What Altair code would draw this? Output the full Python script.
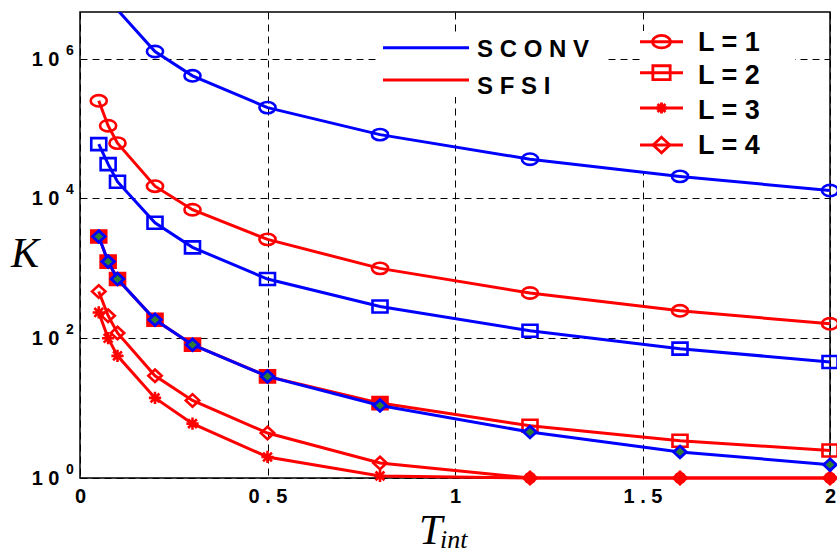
import altair as alt
import pandas as pd

# ---------------- data ----------------
T = [0.05, 0.075, 0.1, 0.2, 0.3, 0.5, 0.8, 1.2, 1.6, 2.0]

sconv_l1 = [2.0e7, 9.0e6, 5.0e6, 1.27e6, 5.7e5, 2.0e5, 8.2e4, 3.65e4, 2.07e4, 1.3e4]
sconv_l2 = [6.0e4, 3.1e4, 1.74e4, 4.5e3, 2.0e3, 703, 285, 128, 71, 45.7]
sconv_l34 = [2860, 1250, 704, 184, 80.7, 28.4, 10.9, 4.55, 2.36, 1.55]

sfsi_l1 = [2.5e5, 1.1e5, 6.2e4, 1.5e4, 6.9e3, 2.6e3, 1.0e3, 444, 247, 161]
sfsi_l2 = [2860, 1250, 704, 184, 81, 28.5, 11.8, 5.6, 3.42, 2.48]
sfsi_l3 = [234, 100, 56, 14, 6.0, 2.0, 1.07, 1, 1, 1]
sfsi_l4 = [468, 210, 119, 29, 12.9, 4.4, 1.64, 1, 1, 1]

x_ticks = [0, 0.5, 1, 1.5, 2]
y_ticks = [1, 100, 1e4, 1e6]
y_tick_base = ["1 0", "1 0", "1 0", "1 0"]
y_tick_exp = ["0", "2", "4", "6"]

method_names = ["SCONV", "SFSI"]
level_names = ["L = 1", "L = 2", "L = 3", "L = 4"]

YMAX = 10 ** 6.669

# ---------------- styles ----------------
SANS = "Liberation Sans"
SERIF = "Liberation Serif"
BLUE = "#0000ff"
RED = "#ff0000"
LW = 3

ELL = "M-1,0A1,0.7,0,1,1,1,0A1,0.7,0,1,1,-1,0Z"
RECT = "M-1,-0.8L1,-0.8L1,0.8L-1,0.8Z"
DIAM = "M0,-0.93L1,0L0,0.93L-1,0Z"
STAR = "M0,-1L0,1M-1,0L1,0M-0.72,-0.72L0.72,0.72M-0.72,0.72L0.72,-0.72"

X = alt.X(
    "T:Q",
    scale=alt.Scale(domain=[0, 2], nice=False, zero=False),
    axis=alt.Axis(
        values=x_ticks, grid=True, gridDash=[7, 5], gridColor="black",
        gridOpacity=1, gridWidth=1, domain=False, ticks=False,
        labelFont=SANS, labelFontSize=20, labelFontWeight="bold",
        labelColor="black", labelPadding=8, labelFlush=False,
        labelExpr="replace(format(datum.value, '~g'), '.', ' . ')",
        title=None,
    ),
)
Y = alt.Y(
    "K:Q",
    scale=alt.Scale(type="log", domain=[1, YMAX], nice=False),
    axis=alt.Axis(
        values=y_ticks, grid=True, gridDash=[7, 5], gridColor="black",
        gridOpacity=1, gridWidth=1, domain=False, ticks=False,
        labels=False, title=None,
    ),
)


def one():
    return pd.DataFrame({"a": [0]})


def series(vals, color, shape, size, clip=False, point_kw=None):
    df = pd.DataFrame({"T": T, "K": vals})
    base = alt.Chart(df).encode(x=X, y=Y)
    line = base.mark_line(color=color, strokeWidth=LW, clip=clip)
    kw = dict(shape=shape, size=size, opacity=1, strokeWidth=2.6)
    kw.update(point_kw or {"filled": False, "color": color})
    pts = base.transform_filter(alt.datum.K <= YMAX).mark_point(**kw)
    return df, line, pts


layers = []

# legend backgrounds (under data, over grid)
layers.append(alt.Chart(one()).mark_rect(fill="white").encode(
    x=alt.value(298), x2=alt.value(527), y=alt.value(20), y2=alt.value(85)))
layers.append(alt.Chart(one()).mark_rect(fill="white").encode(
    x=alt.value(561), x2=alt.value(715), y=alt.value(19), y2=alt.value(161)))

# SFSI (red)
_, l, p = series(sfsi_l1, RED, ELL, 260)
layers += [l, p]
df2, l, p = series(sfsi_l2, RED, RECT, 225)
filled_sq = alt.Chart(df2).encode(x=X, y=Y).transform_filter(alt.datum.T <= 0.8).mark_point(
    shape=RECT, size=250, filled=True, color=RED, opacity=1)
layers += [l, p, filled_sq]
_, l, p = series(sfsi_l3, RED, STAR, 150)
layers += [l, p]
_, l, p = series(sfsi_l4, RED, DIAM, 180)
layers += [l, p]

# SCONV (blue)
_, l, p = series(sconv_l1, BLUE, ELL, 260, clip=True)
layers += [l, p]
_, l, p = series(sconv_l2, BLUE, RECT, 225)
layers += [l, p]
_, l, p = series(sconv_l34, BLUE, DIAM, 160,
                 point_kw={"filled": True, "fill": "#2e7d32", "stroke": BLUE, "strokeWidth": 2.8})
layers += [l, p]

# y tick labels 10^k
ytk = pd.DataFrame({"K": y_ticks, "base": y_tick_base, "exp": y_tick_exp})
layers.append(alt.Chart(ytk).mark_text(
    align="right", baseline="alphabetic", dy=7, fontSize=20, fontWeight="bold",
    font=SANS, color="black").encode(x=alt.value(-20.5), y=Y, text="base:N"))
layers.append(alt.Chart(ytk).mark_text(
    align="left", baseline="alphabetic", dy=-4, fontSize=14, fontWeight="bold",
    font=SANS, color="black").encode(x=alt.value(-14), y=Y, text="exp:N"))

# axis titles
layers.append(alt.Chart(pd.DataFrame({"t": ["K"]})).mark_text(
    align="left", baseline="alphabetic", fontSize=42, fontStyle="italic",
    font=SERIF, color="black").encode(x=alt.value(-69), y=alt.value(254.7), text="t:N"))
layers.append(alt.Chart(pd.DataFrame({"t": ["T"]})).mark_text(
    align="left", baseline="alphabetic", fontSize=42, fontStyle="italic",
    font=SERIF, color="black").encode(x=alt.value(339), y=alt.value(532.3), text="t:N"))
layers.append(alt.Chart(pd.DataFrame({"t": ["int"]})).mark_text(
    align="left", baseline="alphabetic", fontSize=26, fontStyle="italic",
    font=SERIF, color="black").encode(x=alt.value(360), y=alt.value(536), text="t:N"))

# legend 1: methods
for name, color, ly, ty in zip(method_names, [BLUE, RED], [35.7, 68], [45, 82]):
    layers.append(alt.Chart(one()).mark_rule(color=color, strokeWidth=LW).encode(
        x=alt.value(303), x2=alt.value(389), y=alt.value(ly)))
    layers.append(alt.Chart(pd.DataFrame({"t": [" ".join(name)]})).mark_text(
        align="left", baseline="alphabetic", fontSize=24, fontWeight="bold",
        font=SANS, color="black").encode(x=alt.value(397), y=alt.value(ty), text="t:N"))

# legend 2: levels
for name, shape, size, ly, ty in zip(
        level_names, [ELL, RECT, STAR, DIAM], [320, 300, 120, 280],
        [29.7, 60.7, 96, 133], [39, 71.5, 106.5, 141.5]):
    layers.append(alt.Chart(one()).mark_rule(color=RED, strokeWidth=LW).encode(
        x=alt.value(560), x2=alt.value(603), y=alt.value(ly)))
    layers.append(alt.Chart(one()).mark_point(
        shape=shape, size=size, filled=False, color=RED, opacity=1, strokeWidth=2.8).encode(
        x=alt.value(581.5), y=alt.value(ly)))
    layers.append(alt.Chart(pd.DataFrame({"t": [name]})).mark_text(
        align="left", baseline="alphabetic", fontSize=27, fontWeight="bold",
        font=SANS, color="black").encode(x=alt.value(618), y=alt.value(ty), text="t:N"))

chart = alt.layer(*layers).properties(
    width=750, height=466,
    padding={"left": 80, "top": 12, "right": 7, "bottom": 77},
    autosize=alt.AutoSizeParams(type="none"),
    background="white",
).configure_view(stroke="black", strokeWidth=1.5)

chart.save("out.html", embed_options={"renderer": "svg", "actions": False})
